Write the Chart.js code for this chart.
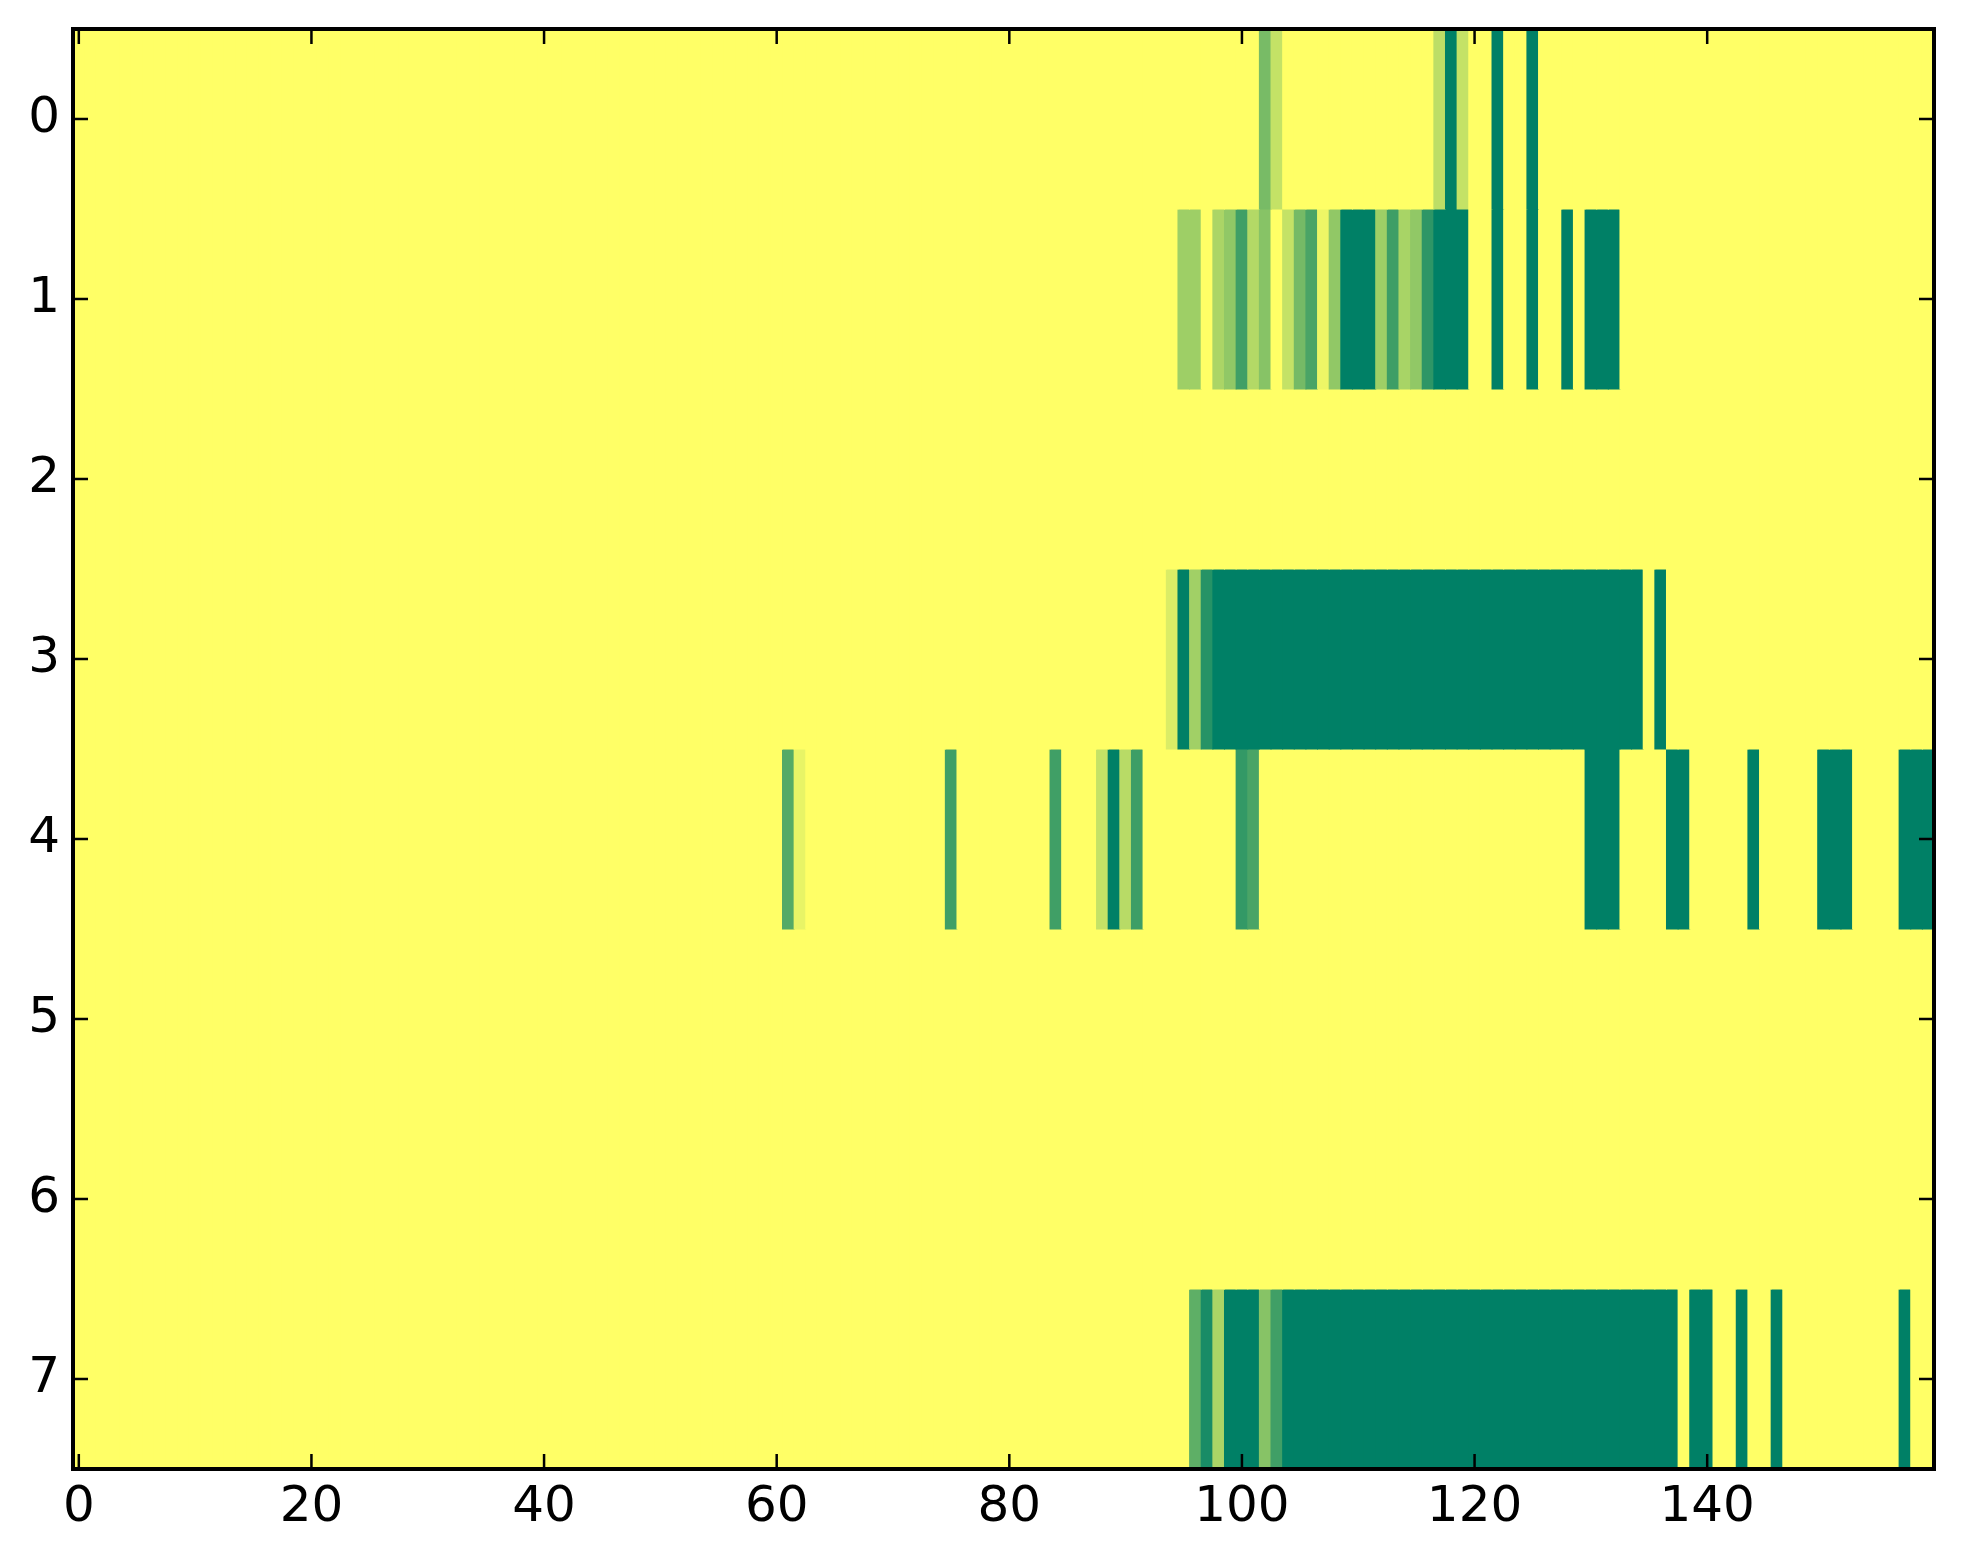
<!DOCTYPE html>
<html>
<head>
<meta charset="utf-8">
<script src="https://cdn.jsdelivr.net/npm/chart.js@4.4.1/dist/chart.umd.min.js"></script>
<style>
  html, body { margin: 0; padding: 0; background: #fff; }
  #wrap { width: 1963px; height: 1564px; }
</style>
</head>
<body>
<div id="wrap"><canvas id="heat" width="1963" height="1564"></canvas></div>
<script>
// rows of the image, top to bottom; columns 0..159
const rowLabels = ['0', '1', '2', '3', '4', '5', '6', '7'];
const xTicks = [0, 20, 40, 60, 80, 100, 120, 140];
const xMin = -0.5;
const xMax = 159.5;

// cell values, 0 = yellow, 1 = dark green (summer_r)
const row0 = [
  0,0,0,0,0,0,0,0,0,0,0,0,0,0,0,0,0,0,0,0,
  0,0,0,0,0,0,0,0,0,0,0,0,0,0,0,0,0,0,0,0,
  0,0,0,0,0,0,0,0,0,0,0,0,0,0,0,0,0,0,0,0,
  0,0,0,0,0,0,0,0,0,0,0,0,0,0,0,0,0,0,0,0,
  0,0,0,0,0,0,0,0,0,0,0,0,0,0,0,0,0,0,0,0,
  0,0,0.53,0.23,0,0,0,0,0,0,0,0,0,0,0,0,0,0.26,1,0.23,
  0,0,1,0,0,1,0,0,0,0,0,0,0,0,0,0,0,0,0,0,
  0,0,0,0,0,0,0,0,0,0,0,0,0,0,0,0,0,0,0,0
];
const row1 = [
  0,0,0,0,0,0,0,0,0,0,0,0,0,0,0,0,0,0,0,0,
  0,0,0,0,0,0,0,0,0,0,0,0,0,0,0,0,0,0,0,0,
  0,0,0,0,0,0,0,0,0,0,0,0,0,0,0,0,0,0,0,0,
  0,0,0,0,0,0,0,0,0,0,0,0,0,0,0,0,0,0,0,0,
  0,0,0,0,0,0,0,0,0,0,0,0,0,0,0,0.38,0.38,0,0.33,0.43,
  0.75,0.30,0.47,0,0.23,0.54,0.71,0.07,0.43,1,1,1,0.38,0.76,0.34,0.43,0.82,1,1,1,
  0,0,1,0,0,1,0,0,1,0,1,1,1,0,0,0,0,0,0,0,
  0,0,0,0,0,0,0,0,0,0,0,0,0,0,0,0,0,0,0,0
];
const row2 = [
  0,0,0,0,0,0,0,0,0,0,0,0,0,0,0,0,0,0,0,0,
  0,0,0,0,0,0,0,0,0,0,0,0,0,0,0,0,0,0,0,0,
  0,0,0,0,0,0,0,0,0,0,0,0,0,0,0,0,0,0,0,0,
  0,0,0,0,0,0,0,0,0,0,0,0,0,0,0,0,0,0,0,0,
  0,0,0,0,0,0,0,0,0,0,0,0,0,0,0,0,0,0,0,0,
  0,0,0,0,0,0,0,0,0,0,0,0,0,0,0,0,0,0,0,0,
  0,0,0,0,0,0,0,0,0,0,0,0,0,0,0,0,0,0,0,0,
  0,0,0,0,0,0,0,0,0,0,0,0,0,0,0,0,0,0,0,0
];
const row3 = [
  0,0,0,0,0,0,0,0,0,0,0,0,0,0,0,0,0,0,0,0,
  0,0,0,0,0,0,0,0,0,0,0,0,0,0,0,0,0,0,0,0,
  0,0,0,0,0,0,0,0,0,0,0,0,0,0,0,0,0,0,0,0,
  0,0,0,0,0,0,0,0,0,0,0,0,0,0,0,0,0,0,0,0,
  0,0,0,0,0,0,0,0,0,0,0,0,0,0,0.14,1,0.37,0.85,1,1,
  1,1,1,1,1,1,1,1,1,1,1,1,1,1,1,1,1,1,1,1,
  1,1,1,1,1,1,1,1,1,1,1,1,1,1,1,0,1,0,0,0,
  0,0,0,0,0,0,0,0,0,0,0,0,0,0,0,0,0,0,0,0
];
const row4 = [
  0,0,0,0,0,0,0,0,0,0,0,0,0,0,0,0,0,0,0,0,
  0,0,0,0,0,0,0,0,0,0,0,0,0,0,0,0,0,0,0,0,
  0,0,0,0,0,0,0,0,0,0,0,0,0,0,0,0,0,0,0,0,
  0,0.67,0.09,0,0,0,0,0,0,0,0,0,0,0,0,0.75,0,0,0,0,
  0,0,0,0,0.75,0,0,0,0.23,1,0.28,0.76,0,0,0,0,0,0,0,0,
  0.8,0.71,0,0,0,0,0,0,0,0,0,0,0,0,0,0,0,0,0,0,
  0,0,0,0,0,0,0,0,0,0,1,1,1,0,0,0,0,1,1,0,
  0,0,0,0,1,0,0,0,0,0,1,1,1,0,0,0,0,1,1,1
];
const row5 = [
  0,0,0,0,0,0,0,0,0,0,0,0,0,0,0,0,0,0,0,0,
  0,0,0,0,0,0,0,0,0,0,0,0,0,0,0,0,0,0,0,0,
  0,0,0,0,0,0,0,0,0,0,0,0,0,0,0,0,0,0,0,0,
  0,0,0,0,0,0,0,0,0,0,0,0,0,0,0,0,0,0,0,0,
  0,0,0,0,0,0,0,0,0,0,0,0,0,0,0,0,0,0,0,0,
  0,0,0,0,0,0,0,0,0,0,0,0,0,0,0,0,0,0,0,0,
  0,0,0,0,0,0,0,0,0,0,0,0,0,0,0,0,0,0,0,0,
  0,0,0,0,0,0,0,0,0,0,0,0,0,0,0,0,0,0,0,0
];
const row6 = [
  0,0,0,0,0,0,0,0,0,0,0,0,0,0,0,0,0,0,0,0,
  0,0,0,0,0,0,0,0,0,0,0,0,0,0,0,0,0,0,0,0,
  0,0,0,0,0,0,0,0,0,0,0,0,0,0,0,0,0,0,0,0,
  0,0,0,0,0,0,0,0,0,0,0,0,0,0,0,0,0,0,0,0,
  0,0,0,0,0,0,0,0,0,0,0,0,0,0,0,0,0,0,0,0,
  0,0,0,0,0,0,0,0,0,0,0,0,0,0,0,0,0,0,0,0,
  0,0,0,0,0,0,0,0,0,0,0,0,0,0,0,0,0,0,0,0,
  0,0,0,0,0,0,0,0,0,0,0,0,0,0,0,0,0,0,0,0
];
const row7 = [
  0,0,0,0,0,0,0,0,0,0,0,0,0,0,0,0,0,0,0,0,
  0,0,0,0,0,0,0,0,0,0,0,0,0,0,0,0,0,0,0,0,
  0,0,0,0,0,0,0,0,0,0,0,0,0,0,0,0,0,0,0,0,
  0,0,0,0,0,0,0,0,0,0,0,0,0,0,0,0,0,0,0,0,
  0,0,0,0,0,0,0,0,0,0,0,0,0,0,0,0,0.63,0.9,0.33,1,
  1,1,0.47,0.75,1,1,1,1,1,1,1,1,1,1,1,1,1,1,1,1,
  1,1,1,1,1,1,1,1,1,1,1,1,1,1,1,1,1,1,0,1,
  1,0,0,1,0,0,1,0,0,0,0,0,0,0,0,0,0,1,0,0
];
const rows = [row0, row1, row2, row3, row4, row5, row6, row7];

// matplotlib summer_r: 0 -> (1, 1, 0.4), 1 -> (0, 0.5, 0.4)
function cellColor(v) {
  const t = 1 - v;
  return 'rgb(' + Math.round(255 * t) + ',' + Math.round(255 * (0.5 + 0.5 * t)) + ',102)';
}

// one dataset per image row, one floating bar per cell
const datasets = rows.map((vals, r) => ({
  label: 'row ' + rowLabels[r],
  data: vals.map((v, c) => ({ x: [c - 0.5, c + 0.5], y: rowLabels[r] })),
  backgroundColor: vals.map(cellColor),
  borderWidth: 0,
  borderSkipped: false,
  inflateAmount: 0.5,
  barPercentage: 1,
  categoryPercentage: 1,
  grouped: false
}));

const tickFont = { family: 'DejaVu Sans', size: 50 };

// black frame with inward ticks on all four sides
const framePlugin = {
  id: 'frame',
  afterDatasetsDraw(chart) {
    const { ctx, chartArea: a, scales } = chart;
    const len = 15;
    ctx.save();
    ctx.strokeStyle = '#000';
    ctx.lineWidth = 2.5;
    ctx.beginPath();
    xTicks.forEach(v => {
      const px = scales.x.getPixelForValue(v);
      ctx.moveTo(px, a.bottom); ctx.lineTo(px, a.bottom - len);
      ctx.moveTo(px, a.top); ctx.lineTo(px, a.top + len);
    });
    rowLabels.forEach((l, i) => {
      const py = scales.y.getPixelForValue(i);
      ctx.moveTo(a.left, py); ctx.lineTo(a.left + len, py);
      ctx.moveTo(a.right, py); ctx.lineTo(a.right - len, py);
    });
    ctx.stroke();
    ctx.lineWidth = 4;
    ctx.strokeRect(a.left, a.top, a.right - a.left, a.bottom - a.top);
    ctx.restore();
  }
};

const config = {
  type: 'bar',
  data: { labels: rowLabels, datasets: datasets },
  options: {
    indexAxis: 'y',
    responsive: false,
    animation: false,
    devicePixelRatio: 1,
    layout: { padding: { left: 0, top: 29, right: 29, bottom: 0 } },
    plugins: {
      legend: { display: false },
      tooltip: { enabled: false },
      title: { display: false }
    },
    scales: {
      x: {
        type: 'linear',
        position: 'bottom',
        min: xMin,
        max: xMax,
        grid: { display: false, drawTicks: false },
        border: { display: false },
        afterBuildTicks: s => { s.ticks = xTicks.map(v => ({ value: v })); },
        afterFit: s => {
          s.height = 95;
          s.paddingLeft = 0;
          s.paddingRight = 0;
        },
        ticks: { font: tickFont, color: '#000', padding: 9, maxRotation: 0, autoSkip: false }
      },
      y: {
        type: 'category',
        labels: rowLabels,
        offset: true,
        grid: { display: false, drawTicks: false },
        border: { display: false },
        afterFit: s => {
          s.width = 73;
          s.paddingTop = 0;
          s.paddingBottom = 0;
        },
        ticks: { font: tickFont, color: '#000', padding: 13 }
      }
    }
  },
  plugins: [framePlugin]
};

const heatChart = new Chart(document.getElementById('heat'), config);
</script>
</body>
</html>
